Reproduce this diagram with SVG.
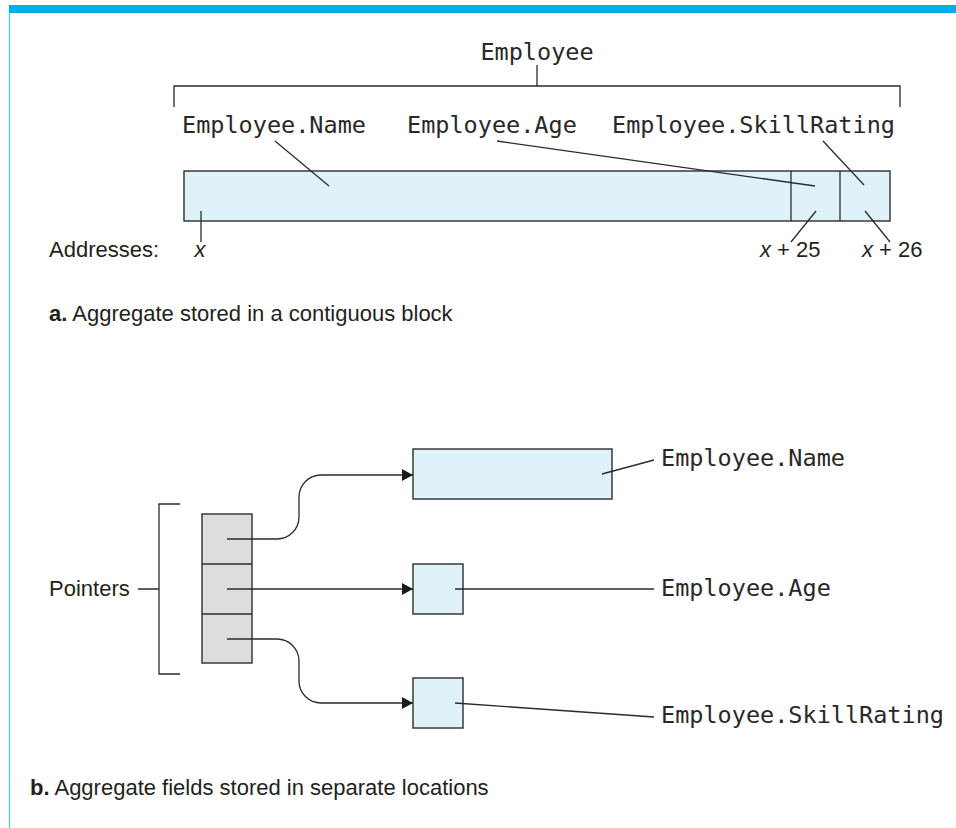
<svg xmlns="http://www.w3.org/2000/svg" width="956" height="828" viewBox="0 0 956 828">
<defs>
<style>
.mono{font-family:"DejaVu Sans Mono","Liberation Mono",monospace;font-size:23.5px;fill:#2a2728}
.sans{font-family:"Liberation Sans",Arial,sans-serif;font-size:22px;fill:#231f20}
.ln{stroke:#2b2b2b;stroke-width:1.3;fill:none}
.cell{fill:#dff2fa;stroke:#3a3a3a;stroke-width:1.5}
.ptr{fill:#dcdddf;stroke:#3a3a3a;stroke-width:1.5}
</style>
<marker id="ah" markerUnits="userSpaceOnUse" markerWidth="12" markerHeight="14" refX="11" refY="7" orient="auto">
<path d="M0,1 L11,7 L0,13 z" fill="#1a1a1a"/>
</marker>
</defs>
<rect width="956" height="828" fill="#ffffff"/>
<g id="frame">
<rect x="9" y="5" width="947" height="8" fill="#00aeef"/>
<line x1="9.5" y1="13" x2="9.5" y2="828" stroke="#4cc4f0" stroke-width="1.2"/>
</g>

<!-- Part a -->
<g id="employee-a">
<text class="mono" x="537" y="60" text-anchor="middle">Employee</text>
<path class="ln" d="M537,65 V86 M174,107 V86 H900 V107"/>
</g>
<g id="contiguous-block">
<rect class="cell" x="184" y="171" width="706" height="50"/>
<line class="ln" x1="791" y1="171" x2="791" y2="221"/>
<line class="ln" x1="840" y1="171" x2="840" y2="221"/>
</g>
<g id="labels-a">
<text class="mono" x="182" y="133">Employee.Name</text>
<text class="mono" x="407" y="133">Employee.Age</text>
<text class="mono" x="612" y="133">Employee.SkillRating</text>
<text class="sans" x="49" y="257">Addresses:</text>
<text class="sans" x="200" y="257" text-anchor="middle" font-style="italic">x</text>
<text class="sans" x="760" y="257"><tspan font-style="italic">x</tspan> + 25</text>
<text class="sans" x="862" y="257"><tspan font-style="italic">x</tspan> + 26</text>
<text class="sans" x="49" y="321"><tspan font-weight="bold">a.</tspan> Aggregate stored in a contiguous block</text>
</g>
<g id="connectors-a">
<line class="ln" x1="275" y1="141" x2="329" y2="186"/>
<line class="ln" x1="497" y1="141" x2="815" y2="186"/>
<line class="ln" x1="823" y1="141" x2="864" y2="185"/>
<line class="ln" x1="201" y1="211" x2="201" y2="242"/>
<line class="ln" x1="816" y1="211" x2="791" y2="242"/>
<line class="ln" x1="865" y1="211" x2="890" y2="242"/>
</g>

<!-- Part b -->
<g id="pointers">
<rect class="ptr" x="202" y="514" width="50" height="149"/>
<line class="ln" x1="202" y1="564" x2="252" y2="564"/>
<line class="ln" x1="202" y1="614" x2="252" y2="614"/>
<path class="ln" d="M180,504 H159 V674 H180 M138,589 H159"/>
<text class="sans" x="49" y="596">Pointers</text>
</g>
<g id="name-box">
<rect class="cell" x="413" y="449" width="199" height="50"/>
<text class="mono" x="661" y="466">Employee.Name</text>
</g>
<g id="age-box">
<rect class="cell" x="413" y="564" width="50" height="50"/>
<text class="mono" x="661" y="596">Employee.Age</text>
</g>
<g id="skill-box">
<rect class="cell" x="413" y="678" width="50" height="50"/>
<text class="mono" x="661" y="723">Employee.SkillRating</text>
</g>
<g id="connectors-b">
<path class="ln" d="M227,539 H277 A22,22 0 0 0 299,517 V497 A22,22 0 0 1 321,475 H413" marker-end="url(#ah)"/>
<path class="ln" d="M227,589 H413" marker-end="url(#ah)"/>
<path class="ln" d="M227,639 H277 A22,22 0 0 1 299,661 V681 A22,22 0 0 0 321,703 H413" marker-end="url(#ah)"/>
<line class="ln" x1="602" y1="474" x2="654" y2="460"/>
<line class="ln" x1="455" y1="589" x2="654" y2="589"/>
<line class="ln" x1="455" y1="703" x2="654" y2="717"/>
</g>
<text class="sans" x="30" y="795"><tspan font-weight="bold">b.</tspan> Aggregate fields stored in separate locations</text>
</svg>
